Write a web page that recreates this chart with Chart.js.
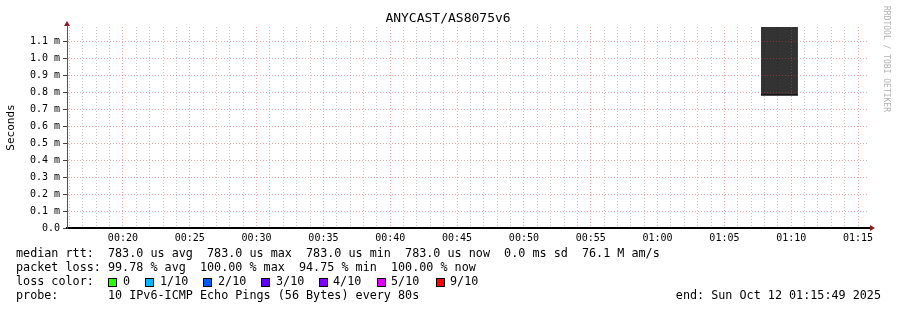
<!DOCTYPE html>
<html>
<head>
<meta charset="utf-8">
<script src="https://cdn.jsdelivr.net/npm/chart.js@4"></script>
<style>
  html, body { margin: 0; padding: 0; background: #fff; }
  canvas { display: block; }
</style>
</head>
<body>
<canvas id="ping" width="897" height="310"></canvas>
<script>
// time window shown, in hh:mm:ss
const startTime = '00:15:49'
const endTime = '01:15:49'

// smoke samples (ms)
const smokeTimes = ['01:07:44', '01:10:30']
const medianRtt = [0.783, 0.783]
const smokeTop = [1.2, 1.2]

const xTickLabels = ['00:20', '00:25', '00:30', '00:35', '00:40', '00:45', '00:50', '00:55', '01:00', '01:05', '01:10', '01:15']
const yTicks = [0, 0.1, 0.2, 0.3, 0.4, 0.5, 0.6, 0.7, 0.8, 0.9, 1.0, 1.1]

const lossLabels = ['0', '1/10', '2/10', '3/10', '4/10', '5/10', '9/10']
const lossColors = ['#26ff00', '#00b8ff', '#0059ff', '#5e00ff', '#7e00ff', '#dd00ff', '#ff0000']

const legendLines = [
    'median rtt:  783.0 us avg  783.0 us max  783.0 us min  783.0 us now  0.0 ms sd  76.1 M am/s',
    'packet loss: 99.78 % avg  100.00 % max  94.75 % min  100.00 % now',
    'loss color:',
    'probe:       10 IPv6-ICMP Echo Pings (56 Bytes) every 80s'
]

function toSec(s) {
    const p = s.split(':').map(Number)
    return p[0] * 3600 + p[1] * 60 + (p[2] || 0)
}
function fmt(t) {
    const h = Math.floor(t / 3600), m = Math.floor((t % 3600) / 60)
    return String(h).padStart(2, '0') + ':' + String(m).padStart(2, '0')
}

const tStart = toSec(startTime)
const tEnd = toSec(endTime)
const majorSecs = xTickLabels.map(toSec)
const minuteTicks = []
for (let t = Math.ceil(tStart / 60) * 60; t <= tEnd; t += 60) minuteTicks.push(t)

const mono = 'DejaVu Sans Mono'
Chart.defaults.font.family = mono
Chart.defaults.font.size = 10
Chart.defaults.color = '#000'

const extras = {
    id: 'extras',
    afterDraw(chart) {
        const ctx = chart.ctx
        const a = chart.chartArea
        ctx.save()
        // title
        ctx.fillStyle = '#000'
        ctx.font = '13px ' + mono
        ctx.textAlign = 'center'
        ctx.textBaseline = 'middle'
        ctx.fillText('ANYCAST/AS8075v6', 448, 19)

        // axis arrows
        ctx.fillStyle = '#8b1a1a'
        ctx.beginPath()
        ctx.moveTo(a.left, a.top - 6)
        ctx.lineTo(a.left - 3, a.top - 1)
        ctx.lineTo(a.left + 3, a.top - 1)
        ctx.fill()
        ctx.beginPath()
        ctx.moveTo(a.right + 6, a.bottom)
        ctx.lineTo(a.right + 1, a.bottom - 3)
        ctx.lineTo(a.right + 1, a.bottom + 3)
        ctx.fill()
        ctx.strokeStyle = '#555'
        ctx.lineWidth = 1
        ctx.beginPath()
        ctx.moveTo(a.left + 0.5, a.top - 2)
        ctx.lineTo(a.left + 0.5, a.top)
        ctx.stroke()

        // y title
        ctx.fillStyle = '#000'
        ctx.font = '11px ' + mono
        ctx.translate(11, (a.top + a.bottom) / 2)
        ctx.rotate(-Math.PI / 2)
        ctx.fillText('Seconds', 0, 0)
        ctx.setTransform(1, 0, 0, 1, 0, 0)

        // watermark
        ctx.fillStyle = '#b0b0b0'
        ctx.font = '8px ' + mono
        ctx.translate(886, 59)
        ctx.rotate(Math.PI / 2)
        ctx.fillText('RRDTOOL / TOBI OETIKER', 0, 0)
        ctx.setTransform(1, 0, 0, 1, 0, 0)

        // legend
        ctx.fillStyle = '#000'
        ctx.font = '11.75px ' + mono
        ctx.textAlign = 'left'
        legendLines.forEach((l, i) => ctx.fillText(l, 16, 254 + i * 14))
        const boxX = [108, 145, 203, 261, 319, 377, 436]
        const textX = [123, 160, 218, 276, 333, 391, 450]
        lossLabels.forEach((lab, i) => {
            ctx.fillStyle = lossColors[i]
            ctx.fillRect(boxX[i], 278, 9, 9)
            ctx.strokeStyle = '#000'
            ctx.strokeRect(boxX[i] + 0.5, 278.5, 8, 8)
            ctx.fillStyle = '#000'
            ctx.fillText(lab, textX[i], 282)
        })
        ctx.textAlign = 'right'
        ctx.fillText('end: Sun Oct 12 01:15:49 2025', 881, 296)
        ctx.restore()
    }
}

new Chart(document.querySelector('#ping'), {
    type: 'line',
    data: {
        datasets: [{
            label: 'median',
            data: smokeTimes.map((t, i) => ({ x: toSec(t), y: medianRtt[i] })),
            borderColor: '#111',
            borderWidth: 1.5,
            pointRadius: 0,
            fill: false
        },
        {
            label: 'smoke',
            data: smokeTimes.map((t, i) => ({ x: toSec(t), y: smokeTop[i] })),
            borderWidth: 0,
            borderColor: 'rgba(0,0,0,0)',
            backgroundColor: '#333333',
            pointRadius: 0,
            fill: 0
        }]
    },
    options: {
        responsive: false,
        animation: false,
        devicePixelRatio: 1,
        layout: {
            padding: { left: 0, top: 27, right: 28, bottom: 62 }
        },
        plugins: {
            legend: { display: false },
            tooltip: { enabled: false }
        },
        scales: {
            x: {
                type: 'linear',
                min: tStart,
                max: tEnd,
                afterFit: s => { s.height = 20 },
                afterBuildTicks: s => { s.ticks = minuteTicks.map(v => ({ value: v })) },
                grid: {
                    z: 1,
                    drawTicks: false,
                    color: c => majorSecs.includes(c.tick && c.tick.value) ? 'rgba(235,60,60,0.45)' : 'rgba(0,0,0,0.22)'
                },
                border: { z: 2, color: '#000', width: 2, dash: [1, 2] },
                ticks: {
                    autoSkip: false,
                    maxRotation: 0,
                    padding: 4,
                    callback: v => majorSecs.includes(v) ? fmt(v) : ''
                }
            },
            y: {
                min: 0,
                max: 1.1824,
                afterFit: s => { s.width = 67 },
                afterBuildTicks: s => { s.ticks = yTicks.map(v => ({ value: v })) },
                grid: {
                    z: 1,
                    tickLength: 4,
                    color: 'rgba(235,60,60,0.45)',
                    tickColor: '#444'
                },
                border: { z: 2, color: '#555', width: 1, dash: [1, 2] },
                ticks: {
                    padding: 3,
                    callback: v => v === 0 ? '0.0' : v.toFixed(1) + ' m'
                }
            }
        }
    },
    plugins: [extras]
})
</script>
</body>
</html>
